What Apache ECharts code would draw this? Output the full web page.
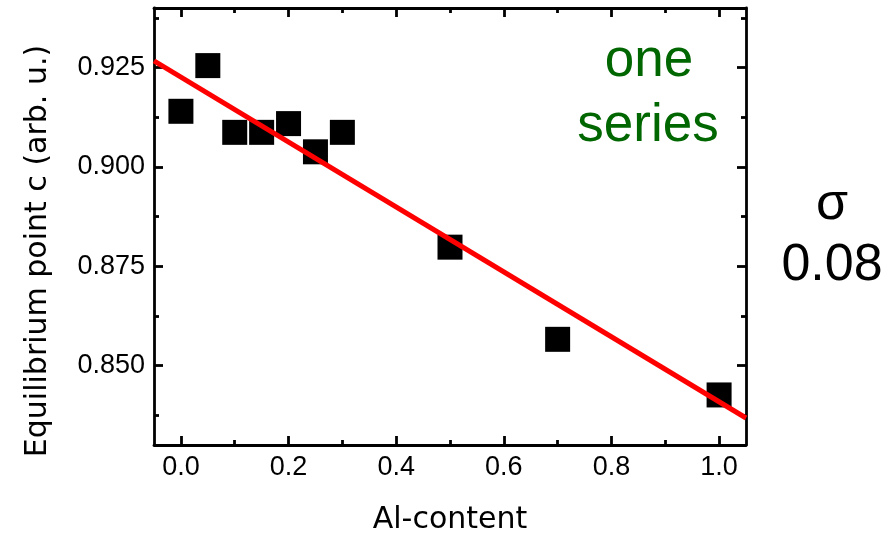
<!DOCTYPE html>
<html>
<head>
<meta charset="utf-8">
<script src="https://cdn.jsdelivr.net/npm/echarts@6/dist/echarts.min.js"></script>
<style>
html,body{margin:0;padding:0;background:#fff;}
#chart{width:892px;height:534px;}
</style>
</head>
<body>
<div id="chart"></div>
<script>
// ---- data ----
var alContent = [0.0, 0.05, 0.1, 0.15, 0.2, 0.25, 0.3, 0.5, 0.7, 1.0];
var equilibriumC = [0.9140, 0.9255, 0.9087, 0.9087, 0.9109, 0.9038, 0.9087, 0.8798, 0.8566, 0.8426];
var fitX = [-0.05, 1.05];
var fitY = [0.9267, 0.8368];
var xMajorTicks = [0.0, 0.2, 0.4, 0.6, 0.8, 1.0];
var xMinorTicks = [0.1, 0.3, 0.5, 0.7, 0.9];
var yMajorTicks = [0.850, 0.875, 0.900, 0.925];
var yMinorTicks = [0.8375, 0.8625, 0.8875, 0.9125, 0.9375];
var xRange = [-0.05, 1.05];
var yRange = [0.83, 0.94];
var xTitle = 'Al-content';
var yTitle = 'Equilibrium point c (arb. u.)';
var annotation1 = ['one', 'series'];
var annotation2 = ['σ', '0.08'];

// ---- chart ----
var chart = echarts.init(document.getElementById('chart'), null, {renderer: 'canvas'});
var lineCol = '#000';
var LW = 2.8;
function xAxisDef(pos, ticks, len, showLine, showLabel, name) {
  return {
    type: 'value', position: pos, min: xRange[0], max: xRange[1],
    axisLine: {show: showLine, onZero: false, lineStyle: {color: lineCol, width: LW}},
    axisTick: {show: true, inside: true, length: len, customValues: ticks, lineStyle: {color: lineCol, width: LW}},
    axisLabel: {show: showLabel, customValues: ticks, margin: 9, color: '#000',
      fontFamily: 'Liberation Sans', fontSize: 27,
      formatter: function (v) { return v.toFixed(1); }},
    splitLine: {show: false},
    name: name || '', nameLocation: 'middle', nameGap: 60,
    nameTextStyle: {fontFamily: 'DejaVu Sans', fontSize: 30, color: '#000'}
  };
}
function yAxisDef(pos, ticks, len, showLine, showLabel) {
  return {
    type: 'value', position: pos, min: yRange[0], max: yRange[1],
    axisLine: {show: showLine, onZero: false, lineStyle: {color: lineCol, width: LW}},
    axisTick: {show: true, inside: true, length: len, customValues: ticks, lineStyle: {color: lineCol, width: LW}},
    axisLabel: {show: showLabel, customValues: ticks, margin: 9, color: '#000',
      fontFamily: 'Liberation Sans', fontSize: 27,
      formatter: function (v) { return v.toFixed(3); }},
    splitLine: {show: false}
  };
}

var scatterData = alContent.map(function (x, i) { return [x, equilibriumC[i]]; });
var fitData = fitX.map(function (x, i) { return [x, fitY[i]]; });

var option = {
  animation: false,
  backgroundColor: '#fff',
  grid: {left: 154, right: 146, top: 8, bottom: 89, containLabel: false, outerBoundsMode: 'none'},
  xAxis: [
    xAxisDef('bottom', xMajorTicks, 9, true, true, xTitle),
    xAxisDef('bottom', xMinorTicks, 5, false, false),
    xAxisDef('top', xMajorTicks, 9, true, false),
    xAxisDef('top', xMinorTicks, 5, false, false)
  ],
  yAxis: [
    yAxisDef('left', yMajorTicks, 9, true, true),
    yAxisDef('left', yMinorTicks, 5, false, false),
    yAxisDef('right', yMajorTicks, 9, true, false),
    yAxisDef('right', yMinorTicks, 5, false, false)
  ],
  series: [
    {
      type: 'scatter', xAxisIndex: 0, yAxisIndex: 0, data: scatterData,
      symbol: 'rect', symbolSize: 25, itemStyle: {color: '#000', opacity: 1}, z: 2
    },
    {
      type: 'line', xAxisIndex: 0, yAxisIndex: 0, data: fitData,
      showSymbol: false, symbol: 'none', lineStyle: {color: '#ff0000', width: 5}, z: 3
    }
  ],
  graphic: [
    {type: 'text', x: 38, y: 251, rotation: Math.PI / 2,
     style: {text: yTitle, fontFamily: 'DejaVu Sans', fontSize: 30, fill: '#000', align: 'center', verticalAlign: 'middle'}},
    {type: 'text', x: 649, y: 61,
     style: {text: annotation1[0], fontFamily: 'Liberation Sans', fontSize: 53, fill: '#006600', align: 'center', verticalAlign: 'middle'}},
    {type: 'text', x: 648, y: 126,
     style: {text: annotation1[1], fontFamily: 'Liberation Sans', fontSize: 53, fill: '#006600', align: 'center', verticalAlign: 'middle'}},
    {type: 'text', x: 832, y: 205,
     style: {text: annotation2[0], fontFamily: 'Liberation Sans', fontSize: 52, fill: '#000', align: 'center', verticalAlign: 'middle'}},
    {type: 'text', x: 832, y: 266,
     style: {text: annotation2[1], fontFamily: 'Liberation Sans', fontSize: 52, fill: '#000', align: 'center', verticalAlign: 'middle'}}
  ]
};
chart.setOption(option);
</script>
</body>
</html>
